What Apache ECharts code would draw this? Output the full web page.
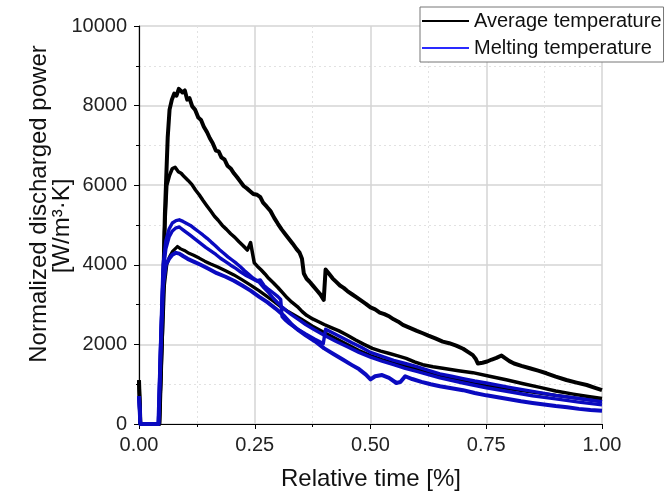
<!DOCTYPE html>
<html>
<head>
<meta charset="utf-8">
<script src="https://cdn.jsdelivr.net/npm/echarts@6/dist/echarts.min.js"></script>
<style>
html,body{margin:0;padding:0;background:#fff;}
#chart{width:667px;height:500px;}
</style>
</head>
<body>
<div id="chart"></div>
<script>
// ---- data (x = relative time, y = normalized discharged power) ----
const xTicks = [0, 0.25, 0.5, 0.75, 1.0];
const yTicks = [0, 2000, 4000, 6000, 8000, 10000];
const legendNames = ['Average temperature', 'Melting temperature'];

const avgTempA = [[0,1100],[0.003,0],[0.044,0],[0.05,2300],[0.056,5300],[0.062,7200],[0.066,7900],[0.071,8150],[0.076,8300],[0.081,8250],[0.086,8420],[0.09,8450],[0.094,8330],[0.099,8380],[0.104,8150],[0.109,8190],[0.115,7980],[0.121,7900],[0.128,7700],[0.134,7640],[0.14,7470],[0.147,7330],[0.153,7180],[0.159,7060],[0.166,6870],[0.172,6850],[0.178,6700],[0.185,6640],[0.191,6490],[0.198,6420],[0.205,6300],[0.212,6200],[0.219,6090],[0.226,5980],[0.233,5920],[0.24,5850],[0.247,5780],[0.255,5760],[0.262,5700],[0.268,5560],[0.276,5460],[0.284,5350],[0.292,5180],[0.3,5030],[0.308,4890],[0.316,4770],[0.324,4650],[0.332,4530],[0.34,4400],[0.347,4300],[0.352,4150],[0.356,3780],[0.362,3650],[0.368,3580],[0.376,3470],[0.384,3360],[0.392,3250],[0.399,3120],[0.403,3880],[0.41,3780],[0.418,3660],[0.426,3570],[0.434,3480],[0.442,3420],[0.45,3340],[0.46,3260],[0.47,3180],[0.48,3100],[0.49,3020],[0.5,2930],[0.51,2880],[0.52,2800],[0.53,2760],[0.541,2700],[0.55,2630],[0.56,2570],[0.57,2490],[0.58,2440],[0.59,2390],[0.6,2340],[0.613,2280],[0.625,2220],[0.64,2150],[0.656,2070],[0.67,2030],[0.685,1970],[0.7,1890],[0.712,1800],[0.721,1730],[0.727,1640],[0.732,1520],[0.742,1540],[0.752,1570],[0.762,1620],[0.772,1660],[0.783,1720],[0.79,1660],[0.8,1580],[0.81,1520],[0.826,1460],[0.844,1400],[0.862,1340],[0.88,1275],[0.9,1190],[0.923,1105],[0.945,1040],[0.967,980],[0.985,910],[1.0,850]];

const avgTempB = [[0,1100],[0.003,0],[0.044,0],[0.05,2500],[0.055,4800],[0.06,5990],[0.066,6250],[0.072,6420],[0.078,6450],[0.085,6340],[0.091,6300],[0.098,6210],[0.106,6120],[0.114,6020],[0.122,5880],[0.13,5760],[0.138,5620],[0.146,5490],[0.155,5350],[0.163,5220],[0.171,5120],[0.18,4990],[0.189,4890],[0.198,4780],[0.207,4690],[0.216,4580],[0.225,4480],[0.234,4370],[0.238,4330],[0.241,4560],[0.245,4300],[0.249,4050],[0.256,3960],[0.264,3870],[0.272,3770],[0.28,3660],[0.29,3550],[0.3,3430],[0.31,3300],[0.32,3170],[0.33,3060],[0.342,2950],[0.352,2830],[0.362,2730],[0.375,2640],[0.388,2570],[0.4,2500],[0.414,2430],[0.432,2340],[0.45,2230],[0.468,2110],[0.486,2000],[0.504,1900],[0.522,1830],[0.541,1770],[0.559,1710],[0.577,1650],[0.595,1560],[0.613,1490],[0.635,1440],[0.656,1400],[0.69,1340],[0.721,1290],[0.757,1200],[0.793,1110],[0.83,1010],[0.866,920],[0.9,830],[0.938,750],[0.97,690],[1.0,640]];

const avgTempC = [[0,1100],[0.003,0],[0.044,0],[0.05,2000],[0.055,3500],[0.06,4000],[0.066,4200],[0.072,4330],[0.078,4400],[0.083,4460],[0.09,4400],[0.098,4360],[0.108,4290],[0.118,4240],[0.13,4170],[0.142,4090],[0.155,4020],[0.169,3950],[0.187,3850],[0.205,3745],[0.223,3620],[0.241,3490],[0.259,3350],[0.277,3200],[0.292,3070],[0.306,2945],[0.32,2840],[0.335,2740],[0.35,2640],[0.375,2460],[0.4,2300],[0.425,2150],[0.45,2000],[0.475,1850],[0.5,1720],[0.525,1620],[0.55,1530],[0.575,1460],[0.6,1380],[0.625,1300],[0.65,1210],[0.675,1140],[0.7,1080],[0.725,1020],[0.75,960],[0.8,880],[0.85,800],[0.9,720],[0.95,640],[1.0,570]];

const meltTempA = [[0,700],[0.003,0],[0.042,0],[0.047,2200],[0.052,4000],[0.058,4600],[0.065,4900],[0.072,5050],[0.08,5110],[0.087,5130],[0.095,5090],[0.103,5040],[0.111,4990],[0.12,4910],[0.129,4830],[0.138,4750],[0.147,4665],[0.156,4570],[0.165,4480],[0.174,4380],[0.183,4290],[0.192,4200],[0.201,4120],[0.21,4040],[0.219,3950],[0.228,3850],[0.237,3760],[0.246,3670],[0.255,3600],[0.262,3620],[0.27,3480],[0.28,3380],[0.291,3285],[0.3,3200],[0.306,3130],[0.309,2700],[0.315,2620],[0.325,2520],[0.34,2400],[0.36,2260],[0.38,2130],[0.398,2020],[0.403,2380],[0.42,2280],[0.44,2160],[0.46,2040],[0.48,1930],[0.5,1800],[0.525,1700],[0.55,1600],[0.575,1520],[0.6,1440],[0.625,1350],[0.65,1260],[0.675,1200],[0.7,1140],[0.725,1080],[0.75,1030],[0.8,920],[0.85,820],[0.9,720],[0.95,640],[1.0,560]];

const meltTempB = [[0,700],[0.003,0],[0.042,0],[0.047,2000],[0.052,3800],[0.058,4400],[0.065,4700],[0.072,4850],[0.08,4930],[0.087,4950],[0.095,4880],[0.103,4810],[0.111,4740],[0.122,4640],[0.133,4540],[0.144,4440],[0.155,4350],[0.166,4260],[0.176,4165],[0.187,4080],[0.198,3990],[0.209,3910],[0.219,3825],[0.23,3740],[0.24,3680],[0.25,3620],[0.26,3560],[0.27,3420],[0.28,3300],[0.29,3160],[0.3,3040],[0.31,2930],[0.32,2830],[0.33,2740],[0.345,2620],[0.36,2500],[0.38,2360],[0.4,2230],[0.425,2080],[0.45,1940],[0.475,1800],[0.5,1680],[0.525,1580],[0.55,1490],[0.575,1400],[0.6,1320],[0.625,1240],[0.65,1160],[0.7,1030],[0.75,910],[0.8,810],[0.85,710],[0.9,630],[0.95,550],[1.0,480]];

const meltTempC = [[0,700],[0.003,0],[0.042,0],[0.047,1900],[0.052,3500],[0.058,4000],[0.065,4150],[0.072,4250],[0.08,4300],[0.087,4280],[0.095,4220],[0.105,4150],[0.118,4080],[0.133,4000],[0.15,3900],[0.168,3790],[0.187,3700],[0.205,3600],[0.223,3480],[0.241,3350],[0.259,3200],[0.277,3060],[0.295,2900],[0.313,2720],[0.33,2500],[0.345,2350],[0.36,2230],[0.38,2080],[0.4,1900],[0.42,1760],[0.44,1620],[0.46,1480],[0.475,1380],[0.49,1240],[0.5,1120],[0.51,1200],[0.525,1230],[0.54,1160],[0.556,1030],[0.565,1060],[0.575,1200],[0.59,1130],[0.61,1060],[0.63,1000],[0.65,950],[0.675,900],[0.7,850],[0.725,780],[0.75,720],[0.775,670],[0.8,620],[0.825,570],[0.85,530],[0.875,490],[0.9,450],[0.925,420],[0.95,380],[0.975,350],[1.0,330]];

// ---- chart ----
const FONT = "'Liberation Sans', Arial, sans-serif";
const BLACK = '#000000';
const BLUE = '#0a0ac0';
const chart = echarts.init(document.getElementById('chart'), null, {renderer: 'canvas'});

function mkSeries(name, data, color, w) {
  return {
    name: name, type: 'line', data: data, showSymbol: false, symbol: 'none',
    animation: false, lineStyle: {color: color, width: w, join: 'round'}, itemStyle: {color: color}
  };
}

const option = {
  animation: false,
  backgroundColor: '#ffffff',
  grid: {left: 139, right: 65, top: 26, bottom: 76, containLabel: false},
  xAxis: {
    type: 'value', min: xTicks[0], max: xTicks[xTicks.length - 1], interval: 0.25,
    axisLine: {show: true, onZero: false, lineStyle: {color: '#000', width: 1.2}},
    axisTick: {show: true, length: 5, lineStyle: {color: '#000'}},
    minorTick: {show: true, splitNumber: 2, length: 3, lineStyle: {color: '#000'}},
    splitLine: {show: true, lineStyle: {color: '#d4d4d4', width: 1.5}},
    minorSplitLine: {show: true, lineStyle: {color: '#e2e2e2', width: 1, type: [2, 3]}},
    axisLabel: {fontFamily: FONT, fontSize: 20, color: '#222', margin: 11,
      formatter: v => v.toFixed(2)}
  },
  yAxis: {
    type: 'value', min: yTicks[0], max: yTicks[yTicks.length - 1], interval: 2000,
    axisLine: {show: true, lineStyle: {color: '#000', width: 1.2}},
    axisTick: {show: true, length: 5, lineStyle: {color: '#000'}},
    minorTick: {show: true, splitNumber: 2, length: 3, lineStyle: {color: '#000'}},
    splitLine: {show: true, lineStyle: {color: '#d4d4d4', width: 1.5}},
    minorSplitLine: {show: true, lineStyle: {color: '#e2e2e2', width: 1, type: [2, 3]}},
    axisLabel: {fontFamily: FONT, fontSize: 20, color: '#222', margin: 12,
      formatter: v => String(v)}
  },
  legend: {
    show: true, orient: 'vertical', left: 420, top: 7,
    padding: [3, 2, 3, 2], itemGap: 5, itemWidth: 47, itemHeight: 2, itemTextGap: 5,
    icon: 'rect', backgroundColor: '#ffffff', borderColor: '#777', borderWidth: 1,
    textStyle: {fontFamily: FONT, fontSize: 20, color: '#111', lineHeight: 22},
    data: [
      {name: legendNames[0], itemStyle: {color: BLACK}},
      {name: legendNames[1], itemStyle: {color: '#2a2aff'}}
    ]
  },
  graphic: [
    {type: 'text', x: 39, y: 204, rotation: Math.PI / 2,
      style: {text: 'Normalized discharged power', font: "24px 'Liberation Sans', Arial, sans-serif",
        fill: '#111', textAlign: 'center', textVerticalAlign: 'middle'}},
    {type: 'text', x: 62, y: 226, rotation: Math.PI / 2,
      style: {text: '[W/m³·K]', font: "24px 'Liberation Sans', Arial, sans-serif",
        fill: '#111', textAlign: 'center', textVerticalAlign: 'middle'}},
    {type: 'text', x: 371, y: 479,
      style: {text: 'Relative time [%]', font: "24px 'Liberation Sans', Arial, sans-serif",
        fill: '#111', textAlign: 'center', textVerticalAlign: 'middle'}}
  ],
  series: [
    mkSeries(legendNames[0], avgTempA, BLACK, 4),
    mkSeries(legendNames[0], avgTempB, BLACK, 3.5),
    mkSeries(legendNames[0], avgTempC, BLACK, 3.2),
    mkSeries(legendNames[1], meltTempA, BLUE, 3.4),
    mkSeries(legendNames[1], meltTempB, BLUE, 3.4),
    mkSeries(legendNames[1], meltTempC, BLUE, 4)
  ]
};
chart.setOption(option);
</script>
</body>
</html>
